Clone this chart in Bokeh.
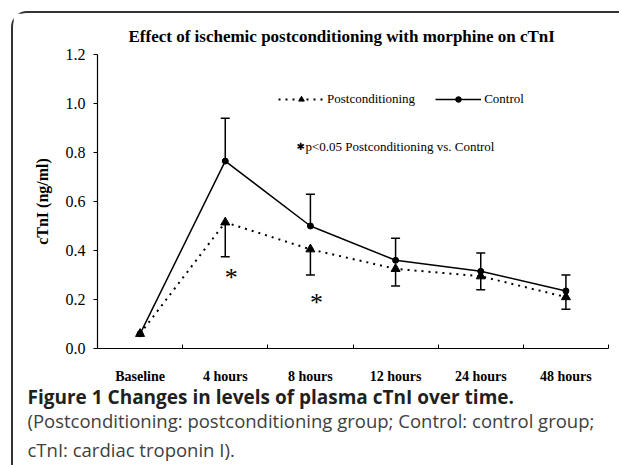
from bokeh.plotting import figure
from bokeh.models import (Range1d, FixedTicker, Whisker, TeeHead, ColumnDataSource,
                          Legend, LegendItem, Label, Title, PrintfTickFormatter)
from bokeh.embed import file_html
from bokeh.resources import INLINE
from bokeh.core.properties import value

# ---- data ----
categories = ["Baseline", "4 hours", "8 hours", "12 hours", "24 hours", "48 hours"]
post_mean = [0.06, 0.515, 0.405, 0.325, 0.295, 0.21]
post_lower = [0.06, 0.375, 0.30, 0.255, 0.24, 0.16]
ctrl_mean = [0.06, 0.765, 0.50, 0.36, 0.315, 0.235]
ctrl_upper = [0.06, 0.94, 0.63, 0.45, 0.39, 0.30]
star_categories = ["4 hours", "8 hours"]
star_values = [0.31, 0.21]
y_ticks = [0.0, 0.2, 0.4, 0.6, 0.8, 1.0, 1.2]

title_text = "Effect of ischemic postconditioning with morphine on cTnI"
y_label = "cTnI (ng/ml)"
note_text = "p<0.05 Postconditioning vs. Control"
caption_bold = "Figure 1 Changes in levels of plasma cTnI over time."
caption_lines = ["(Postconditioning: postconditioning group; Control: control group;",
                 "cTnI: cardiac troponin I)."]

SERIF = "Liberation Serif"
SANS = "Open Sans"

n = len(categories)
xs = [i + 0.5 for i in range(n)]

p = figure(width=608, height=454, x_range=Range1d(0, n), y_range=Range1d(0, 1.2),
           output_backend="svg", toolbar_location=None,
           min_border_left=84, min_border_right=13, min_border_top=41, min_border_bottom=119)
p.styles = {"margin-left": "11px", "margin-top": "11px",
            "border-left": "2px solid #333", "border-top": "2px solid #333",
            "border-top-left-radius": "16px"}
p.grid.visible = False
p.outline_line_color = None
p.background_fill_color = "white"
p.border_fill_color = "white"

# title above the chart
p.add_layout(Title(text=title_text, align="left", offset=31, standoff=17,
                   text_font=SERIF, text_font_style="bold", text_font_size="17px",
                   text_color="black"), "above")

# axes
xa = p.xaxis[0]
xa.ticker = FixedTicker(ticks=xs, minor_ticks=list(range(1, n + 1)))
xa.major_label_overrides = {x: c for x, c in zip(xs, categories)}
xa.major_tick_in = 0
xa.major_tick_out = 0
xa.minor_tick_in = 4
xa.minor_tick_out = 0
xa.minor_tick_line_color = "black"
xa.axis_line_color = "black"
xa.axis_line_width = 1.2
xa.major_label_text_font = SERIF
xa.major_label_text_font_style = "bold"
xa.major_label_text_font_size = "14px"
xa.major_label_text_color = "black"
xa.major_label_standoff = 20

ya = p.yaxis[0]
ya.ticker = FixedTicker(ticks=y_ticks, minor_ticks=[])
ya.formatter = PrintfTickFormatter(format="%.1f")
ya.major_tick_in = 0
ya.major_tick_out = 4
ya.major_tick_line_color = "black"
ya.axis_line_color = "black"
ya.axis_line_width = 1.2
ya.major_label_text_font = SERIF
ya.major_label_text_font_size = "16px"
ya.major_label_text_color = "black"
ya.major_label_standoff = 8
ya.axis_label = y_label
ya.axis_label_text_font = SERIF
ya.axis_label_text_font_style = "bold"
ya.axis_label_text_font_size = "16px"
ya.axis_label_text_color = "black"
ya.axis_label_standoff = 12

# caption below the chart
p.add_layout(Title(text=caption_bold, align="left", offset=-70, standoff=-10,
                   text_font=SANS, text_font_style="bold", text_font_size="19px",
                   text_color="#231f20"), "below")
for line, gap in zip(caption_lines, [2, 3]):
    p.add_layout(Title(text=line, align="left", offset=-70, standoff=gap,
                       text_font=SANS, text_font_style="normal", text_font_size="18.5px",
                       text_color="#404040"), "below")

# error bars
ctrl_src = ColumnDataSource(dict(x=xs[1:], lower=ctrl_mean[1:], upper=ctrl_upper[1:]))
post_src = ColumnDataSource(dict(x=xs[1:], lower=post_lower[1:], upper=post_mean[1:]))
p.add_layout(Whisker(source=ctrl_src, base="x", lower="lower", upper="upper", dimension="height",
                     line_color="black", line_width=1.5,
                     upper_head=TeeHead(size=9, line_color="black", line_width=1.5), lower_head=None))
p.add_layout(Whisker(source=post_src, base="x", lower="lower", upper="upper", dimension="height",
                     line_color="black", line_width=1.5,
                     lower_head=TeeHead(size=9, line_color="black", line_width=1.5), upper_head=None))

# series
lp = p.line(xs, post_mean, line_color="black", line_width=2, line_dash="2 5")
sp = p.scatter(xs, post_mean, marker="triangle", size=9, color="black")
lc = p.line(xs, ctrl_mean, line_color="black", line_width=1.5)
sc = p.scatter(xs, ctrl_mean, marker="circle", size=6, color="black")

# significance stars
p.text(x=[categories.index(c) + 0.57 for c in star_categories], y=star_values,
       text=["*"] * len(star_values), text_font=value(SERIF), text_font_size="26px",
       text_align="center", text_baseline="middle", y_offset=5, text_color="black")

legend = Legend(items=[LegendItem(label="Postconditioning", renderers=[lp, sp]),
                       LegendItem(label="Control", renderers=[lc, sc])],
                orientation="horizontal", location=(181, 241),
                glyph_width=46, glyph_height=14, label_height=14, label_standoff=3,
                spacing=20, padding=0, margin=0, border_line_color=None,
                background_fill_alpha=0, label_text_font=SERIF, label_text_font_size="13px",
                label_text_color="black")
p.add_layout(legend)

p.add_layout(Label(x=199, y=202, x_units="screen", y_units="screen", text="\u2731",
                   text_font="DejaVu Sans", text_font_size="10px", text_color="black",
                   text_baseline="middle"))
p.add_layout(Label(x=208, y=202, x_units="screen", y_units="screen", text=note_text,
                   text_font=SERIF, text_font_size="13px", text_color="black",
                   text_baseline="middle"))

open("out.html", "w").write(file_html(p, INLINE))
